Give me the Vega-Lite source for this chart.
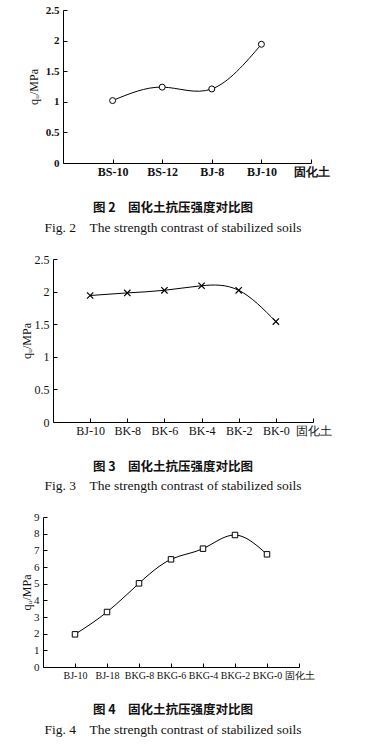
{
  "$schema": "https://vega.github.io/schema/vega-lite/v6.json",
  "padding": {"left": 5, "top": 4, "right": 5, "bottom": 5},
  "background": "white",
  "config": {
    "view": {"stroke": null},
    "axis": {
      "grid": false,
      "domainColor": "#000",
      "tickColor": "#000",
      "labelColor": "#111",
      "titleColor": "#111",
      "labelFont": "Liberation Serif",
      "titleFont": "Liberation Serif",
      "tickSize": -4,
      "domainWidth": 1,
      "tickWidth": 1,
      "labelFontSize": 11,
      "titleFontWeight": "normal",
      "titleFontSize": 12,
      "labelOverlap": false,
      "labelFlush": false
    },
    "title": {"color": "#111", "subtitleColor": "#111"}
  },
  "datasets": {
    "fig2": [
      {"label": "BS-10", "x": 1, "q": 1.02},
      {"label": "BS-12", "x": 2, "q": 1.24},
      {"label": "BJ-8", "x": 3, "q": 1.21},
      {"label": "BJ-10", "x": 4, "q": 1.94}
    ],
    "fig3": [
      {"label": "BJ-10", "x": 1, "q": 1.94},
      {"label": "BK-8", "x": 2, "q": 1.98},
      {"label": "BK-6", "x": 3, "q": 2.02},
      {"label": "BK-4", "x": 4, "q": 2.09},
      {"label": "BK-2", "x": 5, "q": 2.02},
      {"label": "BK-0", "x": 6, "q": 1.54}
    ],
    "fig4": [
      {"label": "BJ-10", "x": 1, "q": 1.96},
      {"label": "BJ-18", "x": 2, "q": 3.3},
      {"label": "BKG-8", "x": 3, "q": 5.02},
      {"label": "BKG-6", "x": 4, "q": 6.46},
      {"label": "BKG-4", "x": 5, "q": 7.1},
      {"label": "BKG-2", "x": 6, "q": 7.92},
      {"label": "BKG-0", "x": 7, "q": 6.76}
    ],
    "none": []
  },
  "spacing": 19,
  "vconcat": [
    {
      "spacing": 21,
      "hconcat": [
        {"width": 1, "height": 1, "data": {"name": "none"}, "mark": {"type": "point", "opacity": 0}},
        {
          "width": 248,
          "height": 153,
          "data": {"name": "fig2"},
          "title": {
            "text": "图 2　固化土抗压强度对比图",
            "subtitle": "Fig. 2\u2003The strength contrast of stabilized soils",
            "orient": "bottom",
            "anchor": "middle",
            "frame": "group",
            "font": "Noto Sans CJK SC",
            "fontSize": 12.5,
            "fontWeight": "bold",
            "subtitleFont": "Liberation Serif",
            "subtitleFontSize": 13.5,
            "subtitlePadding": 6,
            "offset": 25,
            "dx": -14
          },
          "encoding": {
            "x": {
              "field": "x",
              "type": "quantitative",
              "scale": {"domain": [0, 5], "nice": false, "zero": false},
              "axis": {
                "values": [1, 2, 3, 4, 5],
                "labelExpr": "['', 'BS-10', 'BS-12', 'BJ-8', 'BJ-10', '固化土'][datum.value]",
                "title": null,
                "labelPadding": 7,
                "labelFontWeight": "bold",
                "labelFontSize": 12
              }
            },
            "y": {
              "field": "q",
              "type": "quantitative",
              "scale": {"domain": [0, 2.5], "nice": false},
              "axis": {
                "values": [0, 0.5, 1, 1.5, 2, 2.5],
                "format": "~g",
                "title": "qᵤ/MPa",
                "titlePadding": 5,
                "labelPadding": 8,
                "labelFontWeight": "bold"
              }
            }
          },
          "layer": [
            {"mark": {"type": "line", "interpolate": "natural", "color": "#000", "strokeWidth": 1}},
            {"mark": {"type": "point", "shape": "circle", "filled": true, "fill": "white", "stroke": "#000", "strokeWidth": 1, "size": 36, "opacity": 1}}
          ]
        }
      ]
    },
    {
      "spacing": 14,
      "hconcat": [
        {"width": 1, "height": 1, "data": {"name": "none"}, "mark": {"type": "point", "opacity": 0}},
        {
          "width": 260,
          "height": 163,
          "data": {"name": "fig3"},
          "title": {
            "text": "图 3　固化土抗压强度对比图",
            "subtitle": "Fig. 3\u2003The strength contrast of stabilized soils",
            "orient": "bottom",
            "anchor": "middle",
            "frame": "group",
            "font": "Noto Sans CJK SC",
            "fontSize": 12.5,
            "fontWeight": "bold",
            "subtitleFont": "Liberation Serif",
            "subtitleFontSize": 13.5,
            "subtitlePadding": 5,
            "offset": 25,
            "dx": -10
          },
          "encoding": {
            "x": {
              "field": "x",
              "type": "quantitative",
              "scale": {"domain": [0, 7], "nice": false, "zero": false},
              "axis": {
                "values": [1, 2, 3, 4, 5, 6, 7],
                "labelExpr": "['', 'BJ-10', 'BK-8', 'BK-6', 'BK-4', 'BK-2', 'BK-0', '固化土'][datum.value]",
                "title": null,
                "labelPadding": 7,
                "labelFontSize": 12
              }
            },
            "y": {
              "field": "q",
              "type": "quantitative",
              "scale": {"domain": [0, 2.5], "nice": false},
              "axis": {
                "values": [0, 0.5, 1, 1.5, 2, 2.5],
                "format": "~g",
                "title": "qᵤ/MPa",
                "titlePadding": 1,
                "labelPadding": 8,
                "labelFontSize": 12
              }
            }
          },
          "layer": [
            {"mark": {"type": "line", "interpolate": "natural", "color": "#000", "strokeWidth": 1}},
            {"mark": {"type": "point", "shape": "M-1,-1L1,1M-1,1L1,-1", "filled": false, "stroke": "#000", "strokeWidth": 1.2, "size": 40, "opacity": 1}}
          ]
        }
      ]
    },
    {
      "spacing": 14,
      "hconcat": [
        {"width": 1, "height": 1, "data": {"name": "none"}, "mark": {"type": "point", "opacity": 0}},
        {
          "width": 256,
          "height": 150,
          "data": {"name": "fig4"},
          "title": {
            "text": "图 4　固化土抗压强度对比图",
            "subtitle": "Fig. 4\u2003The strength contrast of stabilized soils",
            "orient": "bottom",
            "anchor": "middle",
            "frame": "group",
            "font": "Noto Sans CJK SC",
            "fontSize": 12.5,
            "fontWeight": "bold",
            "subtitleFont": "Liberation Serif",
            "subtitleFontSize": 13.5,
            "subtitlePadding": 6,
            "offset": 24,
            "dx": 2
          },
          "encoding": {
            "x": {
              "field": "x",
              "type": "quantitative",
              "scale": {"domain": [0, 8], "nice": false, "zero": false},
              "axis": {
                "values": [1, 2, 3, 4, 5, 6, 7, 8],
                "labelExpr": "['', 'BJ-10', 'BJ-18', 'BKG-8', 'BKG-6', 'BKG-4', 'BKG-2', 'BKG-0', '固化土'][datum.value]",
                "title": null,
                "labelPadding": 7,
                "labelFontSize": 10
              }
            },
            "y": {
              "field": "q",
              "type": "quantitative",
              "scale": {"domain": [0, 9], "nice": false},
              "axis": {
                "values": [0, 1, 2, 3, 4, 5, 6, 7, 8, 9],
                "format": "~g",
                "title": "qᵤ/MPa",
                "titlePadding": 0.5,
                "labelPadding": 8
              }
            }
          },
          "layer": [
            {"mark": {"type": "line", "interpolate": "natural", "color": "#000", "strokeWidth": 1}},
            {"mark": {"type": "point", "shape": "square", "filled": true, "fill": "white", "stroke": "#000", "strokeWidth": 1, "size": 30, "opacity": 1}}
          ]
        }
      ]
    }
  ]
}
